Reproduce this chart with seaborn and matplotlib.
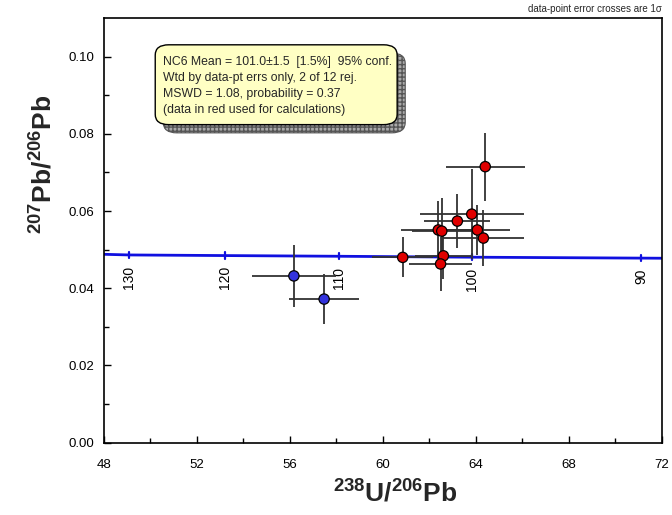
import matplotlib
matplotlib.use("Agg")
import matplotlib.pyplot as plt
import seaborn as sns
import pandas as pd
from matplotlib.patches import FancyBboxPatch

# U-Pb analyses (Tera-Wasserburg space), 1-sigma errors
u238_pb206 = [56.18, 57.48, 64.41, 63.83, 63.21, 62.39, 62.54, 64.07, 64.33, 62.61, 62.49, 60.86]
pb207_pb206 = [0.0432, 0.0372, 0.0715, 0.0592, 0.0574, 0.0551, 0.0548, 0.0551, 0.0530, 0.0484, 0.0463, 0.0480]
err_x = [1.80, 1.50, 1.69, 2.24, 1.42, 1.60, 1.30, 1.40, 1.73, 1.20, 1.37, 1.30]
err_y = [0.0080, 0.0065, 0.0088, 0.0117, 0.0070, 0.0075, 0.0085, 0.0064, 0.0072, 0.0060, 0.0070, 0.0052]
status = ["rejected", "rejected"] + ["used"] * 10

# Concordia curve, age marks in Ma
conc_x = [48.0, 49.09, 53.22, 58.10, 63.84, 71.13, 72.0]
conc_y = [0.0488, 0.04863, 0.04847, 0.04829, 0.04805, 0.04781, 0.04778]
age_labels = [130, 120, 110, 100, 90]
age_x = [49.09, 53.22, 58.10, 63.84, 71.13]
age_y = [0.04863, 0.04847, 0.04829, 0.04805, 0.04781]

df = pd.DataFrame({"x": u238_pb206, "y": pb207_pb206, "ex": err_x, "ey": err_y, "status": status})
conc = pd.DataFrame({"x": conc_x, "y": conc_y})

sns.set_theme(style="ticks")
plt.rcParams["font.family"] = ["Liberation Sans", "DejaVu Sans"]
plt.rcParams["mathtext.fontset"] = "custom"
plt.rcParams["mathtext.rm"] = "Liberation Sans"
plt.rcParams["mathtext.bf"] = "Liberation Sans:bold"

fig = plt.figure(figsize=(6.72, 5.15), dpi=100)
ax = fig.add_axes([0.1543, 0.1404, 0.8304, 0.8246])

# concordia
sns.lineplot(data=conc, x="x", y="y", ax=ax, color="#1010E0", linewidth=2.0, zorder=2, sort=True)
tick_half = 0.0008
for a, tx, ty in zip(age_labels, age_x, age_y):
    ax.plot([tx, tx], [ty - tick_half, ty + tick_half], color="#1010E0", lw=1.6, zorder=2)
    ax.text(tx, ty - 0.0027, str(a), rotation=90, ha="center", va="top", fontsize=10, color="black")

# error crosses
ax.errorbar(df["x"], df["y"], xerr=df["ex"], yerr=df["ey"], fmt="none",
            ecolor="#333333", elinewidth=1.3, capsize=0, zorder=3)

# analyses
sns.scatterplot(data=df, x="x", y="y", hue="status",
                palette={"used": "#E00000", "rejected": "#3333DD"},
                s=55, edgecolor="black", linewidth=0.9, legend=False, ax=ax, zorder=4)

ax.set_xlim(48, 72)
ax.set_ylim(0, 0.11)
ax.set_xticks([48, 52, 56, 60, 64, 68, 72])
ax.set_xticks([50, 54, 58, 62, 66, 70], minor=True)
ax.set_yticks([0.00, 0.02, 0.04, 0.06, 0.08, 0.10])
ax.set_yticks([0.01, 0.03, 0.05, 0.07, 0.09], minor=True)
ax.set_yticklabels(["0.00", "0.02", "0.04", "0.06", "0.08", "0.10"])
ax.tick_params(which="both", direction="in", colors="black", labelsize=9.5, width=1.0)
ax.tick_params(axis="x", which="major", length=5, pad=12)
ax.tick_params(axis="y", which="major", length=5, pad=7)
ax.tick_params(which="minor", length=3.5)
for sp in ax.spines.values():
    sp.set_color("black")
    sp.set_linewidth(1.2)

ax.set_xlabel(r"$\mathbf{^{238}U/^{206}Pb}$", fontsize=19, labelpad=6)
ax.set_ylabel(r"$\mathbf{^{207}Pb/^{206}Pb}$", fontsize=19, labelpad=8)
ax.xaxis.label.set_x(0.522)
ax.yaxis.label.set_y(0.655)

# summary box with hatched shadow
box_kw = dict(boxstyle="round,pad=0,rounding_size=0.02", transform=fig.transFigure)
shadow = FancyBboxPatch((0.243, 0.742), 0.360, 0.155, facecolor="#aaaaaa", edgecolor="#555555",
                        hatch="++++", linewidth=0.8, zorder=5, **box_kw)
box = FancyBboxPatch((0.231, 0.758), 0.360, 0.155, facecolor="#FFFFC4", edgecolor="black",
                     linewidth=1.0, zorder=6, **box_kw)
fig.patches.extend([shadow, box])
lines = ["NC6 Mean = 101.0\u00b11.5  [1.5%]  95% conf.",
         "Wtd by data-pt errs only, 2 of 12 rej.",
         "MSWD = 1.08, probability = 0.37",
         "(data in red used for calculations)"]
for i, t in enumerate(lines):
    fig.text(0.243, 0.880 - i * 0.0315, t, fontsize=8.8, va="center", ha="left", zorder=7)

fig.text(0.985, 0.982, "data-point error crosses are 1\u03c3", fontsize=7, ha="right", va="center")

fig.savefig("out.png", dpi=100)
